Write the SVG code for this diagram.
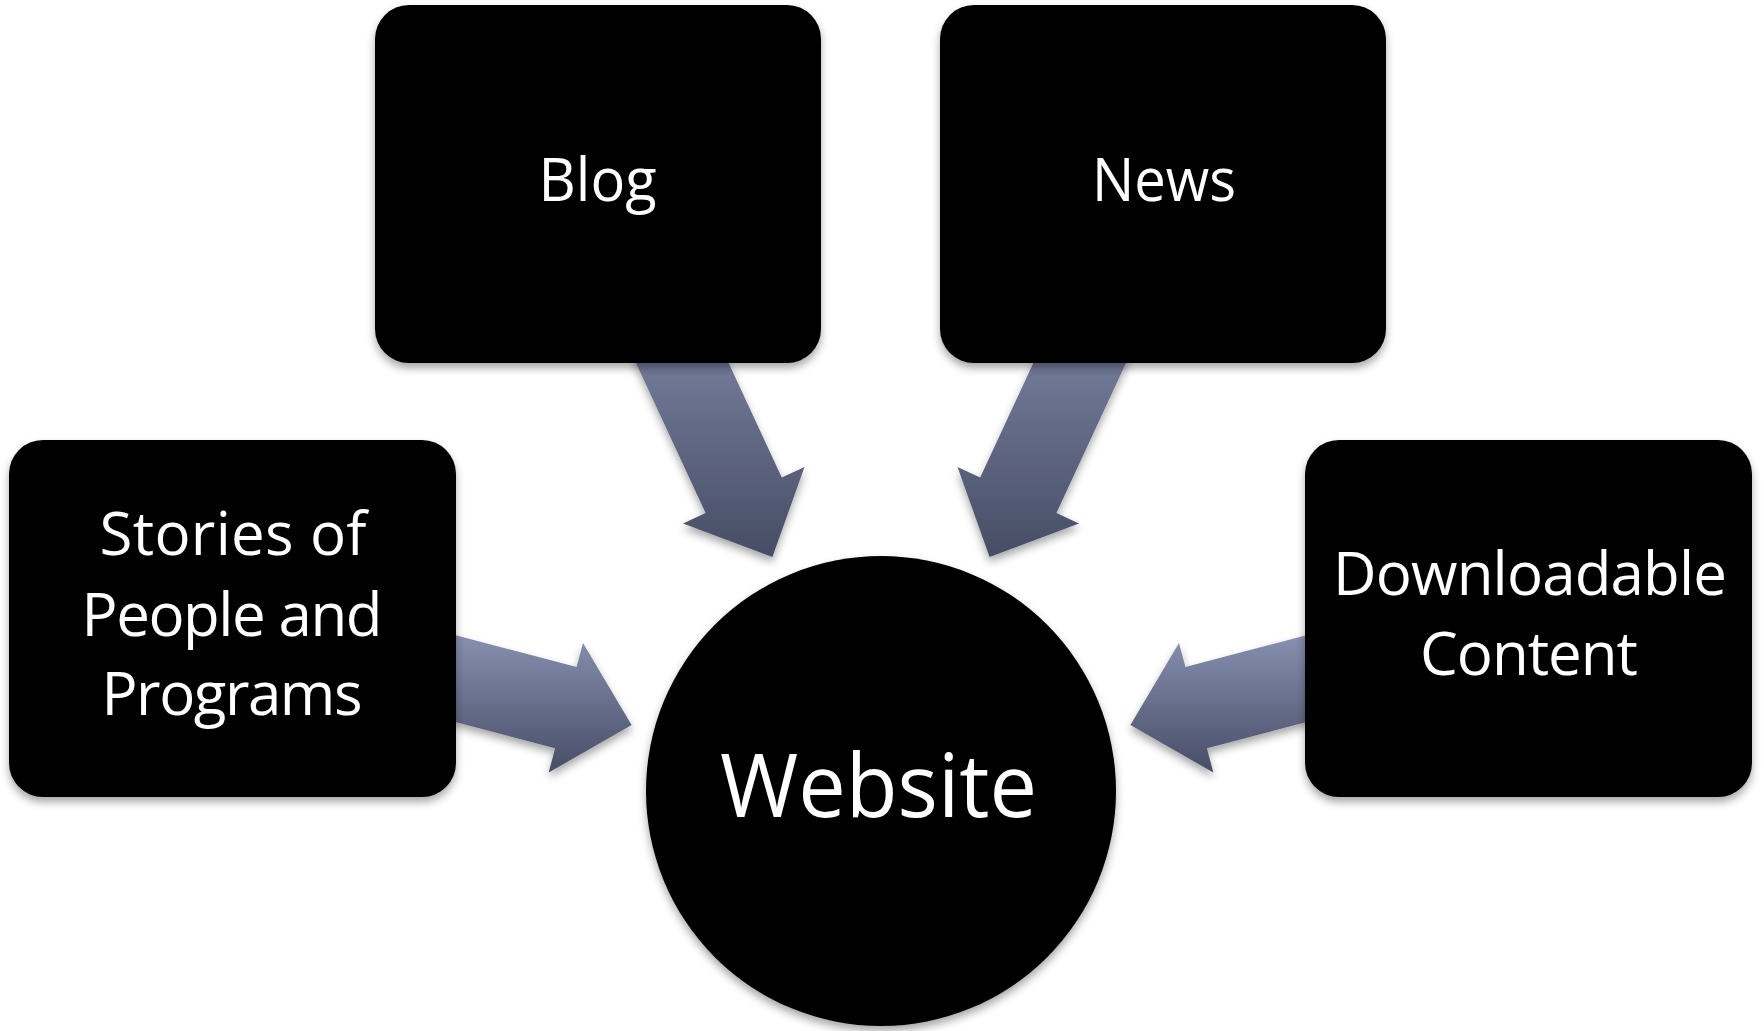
<svg xmlns="http://www.w3.org/2000/svg" width="1764" height="1031" viewBox="0 0 1764 1031">
  <defs>
    <filter id="shadow" x="-10%" y="-10%" width="120%" height="125%">
      <feDropShadow dx="0" dy="5" stdDeviation="4" flood-color="#000" flood-opacity="0.35"/>
    </filter>
    <linearGradient id="gradTop" gradientUnits="userSpaceOnUse" x1="0" y1="362" x2="0" y2="560">
      <stop offset="0" stop-color="#717a97"/>
      <stop offset="1" stop-color="#464c64"/>
    </linearGradient>
    <linearGradient id="gradSide" gradientUnits="userSpaceOnUse" x1="0" y1="625" x2="0" y2="772">
      <stop offset="0" stop-color="#8c95b6"/>
      <stop offset="1" stop-color="#474d66"/>
    </linearGradient>
    <style>
      .node { fill: #000; filter: url(#shadow); }
      .arrow { filter: url(#shadow); }
      .label { fill: #fff; font-family: "Open Sans", "Noto Sans", "DejaVu Sans", sans-serif; font-size: 60px; text-anchor: middle; }
      .big { font-size: 87px; }
    </style>
  </defs>
  <rect width="1764" height="1031" fill="#fff"/>

  <!-- block arrows pointing into the centre circle -->
  <g id="connectors">
    <polygon class="arrow" fill="url(#gradTop)" points="708.6,319.8 781.8,477.6 804.5,467.1 772.4,557 683,523.5 705.6,513 632.4,355.2"/>
    <polygon class="arrow" fill="url(#gradTop)" points="1053.4,319.8 980.2,477.6 957.5,467.1 989.6,557 1079,523.5 1056.4,513 1129.6,355.2"/>
    <polygon class="arrow" fill="url(#gradSide)" points="408.3,622.7 576.6,667.1 583,642.9 631.6,725.1 548.7,772.5 555.1,748.3 386.9,703.9"/>
    <polygon class="arrow" fill="url(#gradSide)" points="1353.7,622.7 1185.4,667.1 1179,642.9 1130.4,725.1 1213.3,772.5 1206.9,748.3 1375.1,703.9"/>
  </g>

  <g id="blog">
    <rect class="node" x="375" y="5" width="446" height="358" rx="34"/>
    <text class="label" x="597.5" y="201" textLength="118" lengthAdjust="spacingAndGlyphs">Blog</text>
  </g>

  <g id="news">
    <rect class="node" x="940" y="5" width="446" height="358" rx="34"/>
    <text class="label" x="1164" y="201" textLength="144" lengthAdjust="spacingAndGlyphs">News</text>
  </g>

  <g id="stories">
    <rect class="node" x="9" y="440" width="447" height="357" rx="34"/>
    <text class="label" x="233" y="555" textLength="267" lengthAdjust="spacing">Stories of</text>
    <text class="label" x="232" y="636" textLength="301" lengthAdjust="spacing">People and</text>
    <text class="label" x="232" y="715" textLength="261" lengthAdjust="spacing">Programs</text>
  </g>

  <g id="downloadable">
    <rect class="node" x="1305" y="440" width="447" height="357" rx="34"/>
    <text class="label" x="1530" y="595" textLength="394" lengthAdjust="spacing">Downloadable</text>
    <text class="label" x="1529" y="675" textLength="218" lengthAdjust="spacing">Content</text>
  </g>

  <g id="website">
    <circle class="node" cx="881" cy="791" r="235"/>
    <text class="label big" x="878.5" y="817" textLength="317" lengthAdjust="spacingAndGlyphs">Website</text>
  </g>
</svg>
